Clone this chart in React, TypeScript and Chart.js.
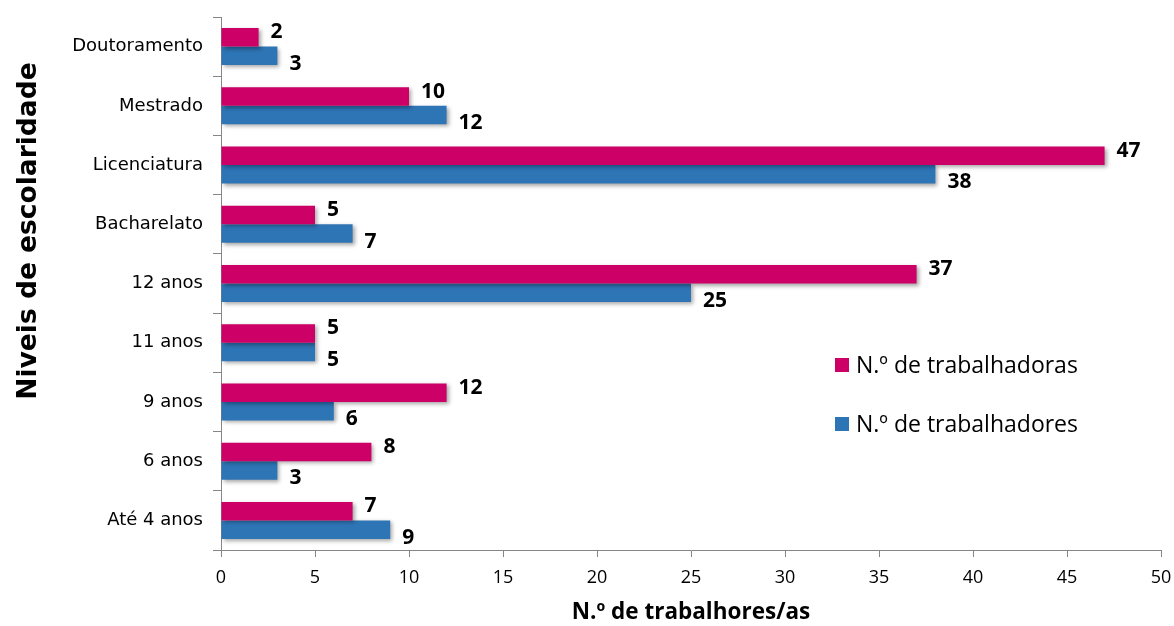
import React, { useEffect, useRef } from "react";
import { Chart, registerables } from "chart.js";

Chart.register(...registerables);

const categories = [
  "Doutoramento",
  "Mestrado",
  "Licenciatura",
  "Bacharelato",
  "12 anos",
  "11 anos",
  "9 anos",
  "6 anos",
  "Até 4 anos",
];
const trabalhadoras = [2, 10, 47, 5, 37, 5, 12, 8, 7];
const trabalhadores = [3, 12, 38, 7, 25, 5, 6, 3, 9];
const seriesNames = ["N.º de trabalhadoras", "N.º de trabalhadores"];
const seriesColors = ["#CC0066", "#2E75B6"];
const xTitle = "N.º de trabalhores/as";
const yTitle = "Niveis de escolaridade";

const shadowPlugin = {
  id: "barShadow",
  beforeDatasetsDraw(chart: any) {
    const ctx = chart.ctx;
    ctx.save();
    ctx.shadowColor = "rgba(0,0,0,0.35)";
    ctx.shadowBlur = 4;
    ctx.shadowOffsetX = 2;
    ctx.shadowOffsetY = 2;
  },
  afterDatasetsDraw(chart: any) {
    chart.ctx.restore();
  },
};

const labelPlugin = {
  id: "barLabels",
  afterDraw(chart: any) {
    const ctx = chart.ctx;
    ctx.save();
    ctx.font = "bold 21px 'Open Sans'";
    ctx.fillStyle = "#000";
    ctx.textAlign = "left";
    ctx.textBaseline = "middle";
    chart.data.datasets.forEach((ds: any, di: number) => {
      const meta = chart.getDatasetMeta(di);
      meta.data.forEach((el: any, i: number) => {
        const dy = di === 0 ? -5 : 8;
        ctx.fillText(String(ds.data[i]), el.x + 12, el.y + dy);
      });
    });
    // legend
    const items = [
      { y: 365, i: 0 },
      { y: 424, i: 1 },
    ];
    ctx.font = "23px 'Open Sans'";
    items.forEach(({ y, i }) => {
      ctx.fillStyle = seriesColors[i];
      ctx.fillRect(835, y - 7, 14, 14);
      ctx.fillStyle = "#000";
      ctx.fillText(seriesNames[i], 856, y + 1);
    });
    // y-axis title
    ctx.translate(29, 231);
    ctx.rotate(-Math.PI / 2);
    ctx.textAlign = "center";
    ctx.font = "bold 26.5px 'DejaVu Sans'";
    ctx.fillText(yTitle, 0, 0);
    ctx.restore();
  },
};

export default function App() {
  const ref = useRef<HTMLCanvasElement | null>(null);
  useEffect(() => {
    document.body.style.margin = "0";
    const chart = new Chart(ref.current as HTMLCanvasElement, {
      type: "bar",
      data: {
        labels: categories,
        datasets: [
          {
            label: seriesNames[0],
            data: trabalhadoras,
            backgroundColor: seriesColors[0],
            barPercentage: 1,
            categoryPercentage: 0.625,
          },
          {
            label: seriesNames[1],
            data: trabalhadores,
            backgroundColor: seriesColors[1],
            barPercentage: 1,
            categoryPercentage: 0.625,
          },
        ],
      },
      options: {
        indexAxis: "y",
        animation: false,
        responsive: false,
        layout: { padding: { left: 10, right: 13, top: 17, bottom: 0 } },
        plugins: {
          legend: { display: false },
          tooltip: { enabled: false },
        },
        scales: {
          x: {
            min: 0,
            max: 50,
            ticks: {
              stepSize: 5,
              color: "#000",
              font: { family: "'Open Sans'", size: 18 },
              padding: 10,
            },
            grid: {
              drawOnChartArea: false,
              drawTicks: true,
              tickLength: 7,
              color: "#868686",
            },
            border: { display: true, color: "#868686" },
            title: {
              display: true,
              text: xTitle,
              color: "#000",
              font: { family: "'Open Sans'", size: 22.5, weight: "bold" },
              padding: { top: 0, bottom: 0 },
            },
            afterFit(scale: any) {
              scale.height = 76;
              scale.paddingLeft = 0;
              scale.paddingRight = 0;
            },
          },
          y: {
            ticks: {
              color: "#000",
              font: { family: "'DejaVu Sans'", size: 18 },
              padding: 10,
            },
            grid: {
              drawOnChartArea: false,
              drawTicks: true,
              tickLength: 8,
              color: "#868686",
            },
            border: { display: true, color: "#868686" },
            title: { display: false },
            afterFit(scale: any) {
              scale.width = 211;
              scale.paddingTop = 0;
              scale.paddingBottom = 0;
            },
          },
        },
      } as any,
      plugins: [shadowPlugin, labelPlugin],
    });
    return () => chart.destroy();
  }, []);
  return (
    <div style={{ width: 1174, height: 626 }}>
      <canvas ref={ref} width={1174} height={626} style={{ display: "block" }} />
    </div>
  );
}
